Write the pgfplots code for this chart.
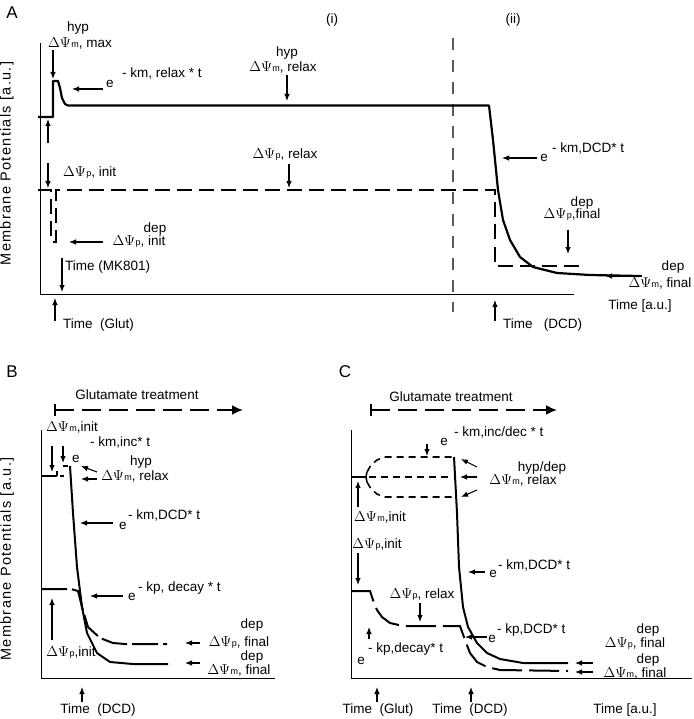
\documentclass[border=0pt]{standalone}
\usepackage{fontspec}
\setmainfont{Liberation Sans}
\usepackage{pgfplots}
\pgfplotsset{compat=1.18}
\usetikzlibrary{arrows.meta}

% Delta Psi with a small index
\newcommand{\dP}[1]{$\Delta\Psi$\kern0.5pt{\fontsize{9}{9}\selectfont #1}}

\pgfplotsset{
  panel/.style={x=1pt, y=1pt, axis x line*=bottom, axis y line*=left,
    axis line style={line width=0.9pt}, xtick=\empty, ytick=\empty,
    enlargelimits=false, clip=false, anchor=south west, no markers},
}

\begin{document}
\begin{tikzpicture}[font=\fontsize{13.5}{15}\selectfont,
  every node/.append style={inner sep=0pt},
  arr/.style={-{Latex[length=7pt,width=5.5pt]}, line width=1.1pt}]
\useasboundingbox (0pt,0pt) rectangle (693pt,-719pt);

% ---------------- A ----------------
\begin{axis}[panel, xmin=40, xmax=574, ymin=-294, ymax=-43, at={(40pt,-294pt)},
  ylabel={Membrane Potentials [a.u.]},
  ylabel style={at={(axis description cs:-0.062,0.52)}, anchor=center,
    font=\fontsize{14.5}{16}\selectfont\addfontfeatures{LetterSpace=9}}]
\addplot[gray!70!black, line width=1.3pt, dash pattern=on 12pt off 10pt]
  coordinates {(453,-38) (453,-312)};
\addplot[line width=2.2pt, line join=round] coordinates {
  (38,-117) (53,-117) (53,-81) (58,-81) (60,-88) (62,-98) (65,-104) (68,-105.5)
  (489,-105.5) (493,-140) (498,-190) (503,-220) (510,-240) (520,-257)
  (533,-267) (557,-273) (590,-275) (640,-276)};
\addplot[line width=2pt, dash pattern=on 15pt off 7pt] coordinates {
  (38,-190.5) (51,-190.5) (51,-242) (56,-242) (56,-190.5)
  (495,-190.5) (495,-266) (583,-266)};

\node[font=\fontsize{17}{18}\selectfont] at (axis cs:12,-13) {A};
\node at (axis cs:332,-20) {(i)};
\node at (axis cs:513,-20) {(ii)};

\node at (axis cs:78,-28) {hyp};
\node at (axis cs:80,-43) {\dP{m}, max};
\draw[arr] (axis cs:53,-50) -- (axis cs:53,-79);
\node at (axis cs:110,-84) {e};
\node[anchor=west] at (axis cs:122,-73) {- km, relax * t};
\draw[arr] (axis cs:103,-89) -- (axis cs:72,-89);
\draw[arr] (axis cs:48,-143) -- (axis cs:48,-119);

\node at (axis cs:287,-53) {hyp};
\node at (axis cs:283,-67) {\dP{m}, relax};
\draw[arr] (axis cs:287,-75) -- (axis cs:287,-101);

\node at (axis cs:285,-155) {\dP{p}, relax};
\draw[arr] (axis cs:289,-164) -- (axis cs:289,-188);

\node[anchor=west] at (axis cs:63,-173) {\dP{p}, init};
\draw[arr] (axis cs:48,-163) -- (axis cs:48,-188);

\node at (axis cs:155,-229) {dep};
\node at (axis cs:139,-242) {\dP{p}, init};
\draw[arr] (axis cs:103,-242) -- (axis cs:69,-242);

\node[anchor=west] at (axis cs:65,-267) {Time (MK801)};
\draw[arr] (axis cs:62,-258) -- (axis cs:62,-292);
\node[anchor=west] at (axis cs:63,-325) {Time~~(Glut)};
\draw[arr] (axis cs:55,-321) -- (axis cs:55,-298);

\node at (axis cs:544,-158) {e};
\node[anchor=west] at (axis cs:552,-148) {- km,DCD* t};
\draw[arr] (axis cs:537,-158) -- (axis cs:502,-158);

\node at (axis cs:582,-203) {dep};
\node at (axis cs:572,-215) {\dP{p},final};
\draw[arr] (axis cs:568,-230) -- (axis cs:568,-254);

\node at (axis cs:673,-267) {dep};
\node at (axis cs:660,-283) {\dP{m}, final};
\draw[arr] (axis cs:642,-276) -- (axis cs:605,-276);

\node at (axis cs:640,-306) {Time [a.u.]};
\node[anchor=west] at (axis cs:503,-325) {Time~~~(DCD)};
\draw[arr] (axis cs:495,-321) -- (axis cs:495,-300);
\end{axis}

% ---------------- B ----------------
\begin{axis}[panel, xmin=41, xmax=275, ymin=-678, ymax=-430, at={(41pt,-678pt)},
  ylabel={Membrane Potentials [a.u.]},
  ylabel style={at={(axis description cs:-0.145,0.48)}, anchor=center,
    font=\fontsize{14.5}{16}\selectfont\addfontfeatures{LetterSpace=9}}]
\addplot[line width=2pt] coordinates {(41,-476) (57,-476)};
\addplot[line width=1.6pt] coordinates {(57,-476) (57,-471)};
\addplot[line width=1.6pt] coordinates {(60,-476) (64,-476)};
\addplot[line width=1.8pt] coordinates {(63,-466) (68,-466)};
\addplot[line width=2pt, line join=round] coordinates {
  (70,-466) (73,-513) (77,-567) (82,-607) (87,-633) (97,-653) (110,-662)
  (133,-664) (168,-664)};
\addplot[line width=2pt, dash pattern=on 26pt off 5pt] coordinates {
  (41,-589) (71,-589) (78,-591) (82,-607) (88,-627) (100,-638) (113,-643)
  (125,-644) (167,-644)};

\node[font=\fontsize{17}{18}\selectfont] at (axis cs:12,-372) {B};
\node at (axis cs:137,-395) {Glutamate treatment};
\draw[line width=1.6pt] (axis cs:55,-404) -- (axis cs:55,-416);
\draw[line width=1.9pt, dash pattern=on 19pt off 8pt, -{Latex[length=11pt,width=10pt]}]
  (axis cs:55,-410) -- (axis cs:243,-410);

\node at (axis cs:72,-427) {\dP{m},init};
\draw[arr] (axis cs:52,-446) -- (axis cs:52,-472);
\draw[arr] (axis cs:63,-446) -- (axis cs:63,-463);
\node at (axis cs:76,-459) {e};
\node[anchor=west] at (axis cs:90,-442) {- km,inc* t};

\node at (axis cs:141,-462) {hyp};
\node at (axis cs:135,-476) {\dP{m}, relax};
\draw[arr] (axis cs:97,-472) -- (axis cs:81,-466);
\draw[arr] (axis cs:97,-479) -- (axis cs:81,-479);

\node at (axis cs:123,-526) {e};
\node[anchor=west] at (axis cs:128,-515) {- km,DCD* t};
\draw[arr] (axis cs:113,-523) -- (axis cs:80,-523);

\node at (axis cs:132,-597) {e};
\node[anchor=west] at (axis cs:138,-588) {- kp, decay * t};
\draw[arr] (axis cs:123,-596) -- (axis cs:90,-596);

\draw[arr] (axis cs:52,-640) -- (axis cs:52,-598);
\node at (axis cs:71,-653) {\dP{p},init};

\node at (axis cs:252,-625) {dep};
\node at (axis cs:239,-643) {\dP{p}, final};
\draw[arr] (axis cs:200,-643) -- (axis cs:185,-643);
\node at (axis cs:252,-657) {dep};
\node at (axis cs:239,-670) {\dP{m}, final};
\draw[arr] (axis cs:200,-663) -- (axis cs:185,-663);

\node at (axis cs:98,-710) {Time~~(DCD)};
\draw[arr] (axis cs:82,-702) -- (axis cs:82,-687);
\end{axis}

% ---------------- C ----------------
\begin{axis}[panel, xmin=351, xmax=692, ymin=-678, ymax=-430, at={(351pt,-678pt)}]
\addplot[line width=2pt] coordinates {(351,-477) (366,-477)};
\addplot[line width=1.5pt] coordinates {(367,-472) (366,-477) (367,-482)};
\addplot[line width=1.6pt, dash pattern=on 7pt off 5pt] coordinates {
  (367,-472) (371,-465) (377,-460) (384,-457) (453,-457)};
\addplot[line width=1.6pt, dash pattern=on 7pt off 5pt] coordinates {
  (369,-477) (453,-477)};
\addplot[line width=1.6pt, dash pattern=on 7pt off 5pt] coordinates {
  (367,-482) (371,-489) (377,-494) (384,-497) (453,-497)};
\addplot[line width=2pt, line join=round] coordinates {
  (454,-457) (457,-513) (459,-567) (463,-607) (468,-627) (477,-643)
  (487,-653) (500,-659) (523,-663) (568,-663)};
\addplot[line width=2pt, dash pattern=on 30pt off 7pt] coordinates {
  (351,-591) (370,-591) (373,-600) (377,-610) (382,-617) (390,-623)
  (403,-626) (460,-626) (465,-640) (470,-653) (477,-662) (487,-667)
  (500,-670) (568,-671)};

\node[font=\fontsize{17}{18}\selectfont] at (axis cs:345,-372) {C};
\node at (axis cs:451,-397) {Glutamate treatment};
\draw[line width=1.6pt] (axis cs:371,-404) -- (axis cs:371,-416);
\draw[line width=1.9pt, dash pattern=on 19pt off 8pt, -{Latex[length=11pt,width=10pt]}]
  (axis cs:371,-410) -- (axis cs:557,-410);

\node at (axis cs:444,-442) {e};
\node[anchor=west] at (axis cs:454,-432) {- km,inc/dec * t};
\draw[arr] (axis cs:427,-444) -- (axis cs:427,-456);

\node at (axis cs:542,-468) {hyp/dep};
\node at (axis cs:523,-480) {\dP{m}, relax};
\draw[arr] (axis cs:477,-467) -- (axis cs:461,-459);
\draw[arr] (axis cs:477,-477) -- (axis cs:460,-477);
\draw[arr] (axis cs:477,-490) -- (axis cs:461,-497);

\draw[arr] (axis cs:358,-507) -- (axis cs:358,-481);
\node at (axis cs:380,-517) {\dP{m},init};

\node at (axis cs:377,-545) {\dP{p},init};
\draw[arr] (axis cs:358,-553) -- (axis cs:358,-585);

\node at (axis cs:422,-595) {\dP{p}, relax};
\draw[arr] (axis cs:420,-603) -- (axis cs:420,-622);

\draw[arr] (axis cs:369,-639) -- (axis cs:369,-627);
\node at (axis cs:361,-661) {e};
\node[anchor=west] at (axis cs:368,-649) {- kp,decay* t};

\node at (axis cs:493,-574) {e};
\node[anchor=west] at (axis cs:498,-565) {- km,DCD* t};
\draw[arr] (axis cs:485,-572) -- (axis cs:468,-572);

\node at (axis cs:492,-639) {e};
\node[anchor=west] at (axis cs:497,-630) {- kp,DCD* t};
\draw[arr] (axis cs:487,-637) -- (axis cs:465,-637);

\node at (axis cs:648,-630) {dep};
\node at (axis cs:635,-644) {\dP{p}, final};
\node at (axis cs:648,-660) {dep};
\node at (axis cs:635,-673) {\dP{m}, final};
\draw[arr] (axis cs:593,-663) -- (axis cs:575,-663);
\draw[arr] (axis cs:593,-672) -- (axis cs:575,-672);

\node at (axis cs:378,-710) {Time~~(Glut)};
\draw[arr] (axis cs:377,-702) -- (axis cs:377,-687);
\node at (axis cs:470,-710) {Time~~(DCD)};
\draw[arr] (axis cs:471,-702) -- (axis cs:471,-687);
\node at (axis cs:625,-710) {Time [a.u.]};
\end{axis}
\end{tikzpicture}
\end{document}
